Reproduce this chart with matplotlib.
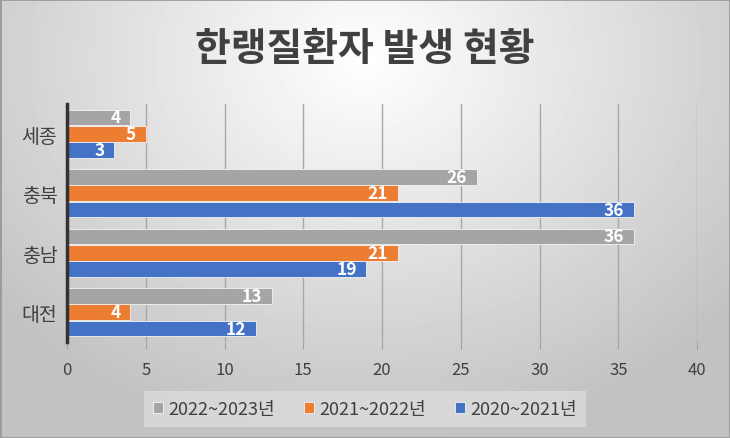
import matplotlib
matplotlib.use("Agg")
import matplotlib.pyplot as plt
import numpy as np
from matplotlib.patches import Rectangle

plt.rcParams["font.family"] = ["Noto Sans CJK KR", "DejaVu Sans"]

regions = ["대전", "충남", "충북", "세종"]
series_names = ["2022~2023년", "2021~2022년", "2020~2021년"]
v_2022_2023 = [13, 36, 26, 4]
v_2021_2022 = [4, 21, 21, 5]
v_2020_2021 = [12, 19, 36, 3]
colors = ["#A5A5A5", "#ED7D31", "#4472C4"]

fig = plt.figure(figsize=(7.3, 4.39), dpi=100)

# background gradient
bg = fig.add_axes([0, 0, 1, 1], zorder=-10)
yy, xx = np.mgrid[0:439, 0:730]
r = np.sqrt(((xx - 365) / 500.0) ** 2 + ((yy - 60) / 400.0) ** 2)
shade = np.clip(1.0 - 0.25 * r, 0.76, 1.0)
bg.imshow(shade, cmap="gray", vmin=0, vmax=1, aspect="auto", extent=[0, 1, 0, 1])
bg.add_patch(Rectangle((0, 0), 1, 1, fill=False, edgecolor="#9a9a9a", linewidth=2, transform=bg.transAxes))
bg.set_axis_off()

ax = fig.add_axes([67 / 730, 96 / 439, 630 / 730, 238 / 439])
ax.patch.set_alpha(0)

y = np.arange(len(regions))
h = 0.265
offsets = [h + 0.01, 0.0, -(h + 0.01)]
for vals, off, col, name in zip([v_2022_2023, v_2021_2022, v_2020_2021], offsets, colors, series_names):
    bars = ax.barh(y + off, vals, height=h, color=col, edgecolor="#f4f4f4", linewidth=0.6, label=name, zorder=3)
    for b, v in zip(bars, vals):
        ax.text(b.get_width() - 0.6, b.get_y() + b.get_height() / 2, str(v),
                ha="right", va="center", color="white", fontsize=12.5, fontweight="bold", zorder=4)

ax.set_xlim(0, 40)
ax.set_ylim(-0.5, 3.5)
ax.set_xticks(range(0, 41, 5))
ax.set_yticks(y)
ax.set_yticklabels(regions, fontsize=14, color="#404040")
ax.tick_params(axis="y", length=0, pad=7)
ax.tick_params(axis="x", length=5, color="#a0a0a0", labelsize=12, labelcolor="#404040", pad=9)
ax.grid(axis="x", color="#a8a8a8", linewidth=1, zorder=0)
for s in ["top", "right", "bottom"]:
    ax.spines[s].set_visible(False)
ax.spines["left"].set_color("#333333")
ax.spines["left"].set_linewidth(2.5)
ax.spines["left"].set_zorder(5)

fig.text(0.5, 0.888, "한랭질환자 발생 현황", ha="center", va="center",
         fontsize=28, fontweight="bold", color="#404040")

leg = fig.legend(loc="center", bbox_to_anchor=(365 / 730, 1 - 410 / 439), ncol=3,
                 frameon=True, fancybox=False, fontsize=13, handlelength=0.55, handleheight=0.55,
                 handletextpad=0.3, columnspacing=1.6, borderpad=0.5)
leg.get_frame().set_facecolor("#dcdcdc")
leg.get_frame().set_edgecolor("none")
leg.get_frame().set_alpha(0.8)
for t in leg.get_texts():
    t.set_color("#404040")

fig.savefig("out.png", dpi=100)
